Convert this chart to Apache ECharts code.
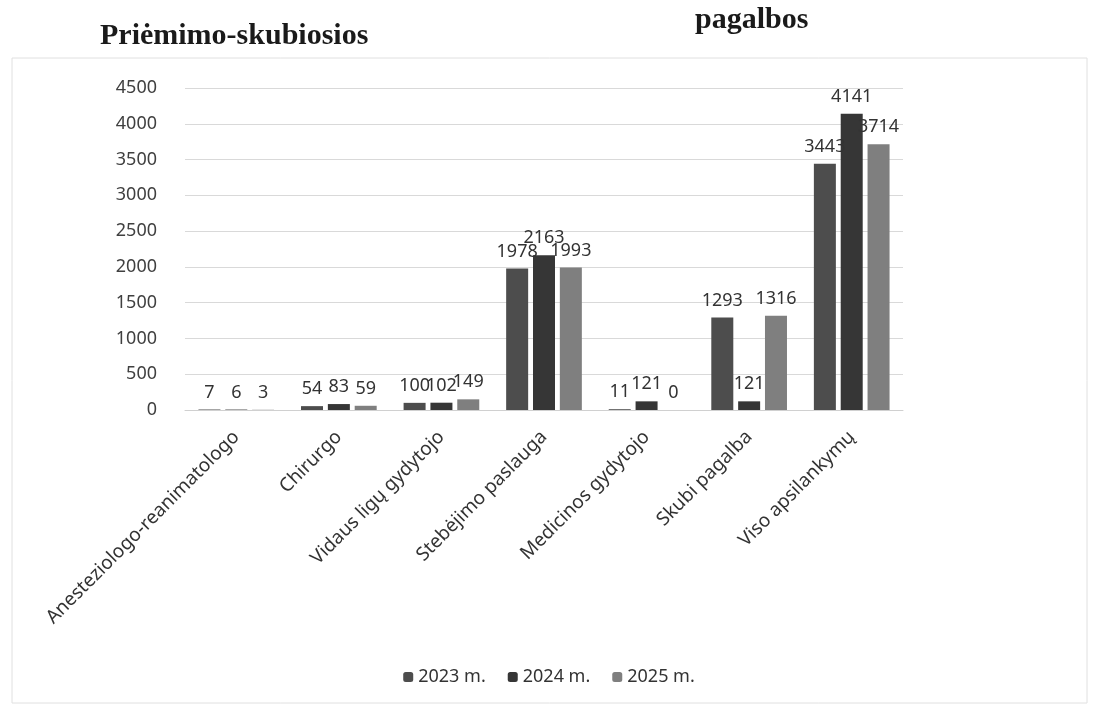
<!DOCTYPE html>
<html>
<head>
<meta charset="utf-8">
<script src="https://cdn.jsdelivr.net/npm/echarts@6/dist/echarts.min.js"></script>
<style>
  html, body { margin: 0; padding: 0; background: #fff; }
  #chart { width: 1098px; height: 713px; }
</style>
</head>
<body>
<div id="chart"></div>
<script>
const categories = [
  "Anesteziologo-reanimatologo",
  "Chirurgo",
  "Vidaus ligų gydytojo",
  "Stebėjimo paslauga",
  "Medicinos gydytojo",
  "Skubi pagalba",
  "Viso apsilankymų",
];
const years = ["2023 m.", "2024 m.", "2025 m."];
const values2023 = [7, 54, 100, 1978, 11, 1293, 3443];
const values2024 = [6, 83, 102, 2163, 121, 121, 4141];
const values2025 = [3, 59, 149, 1993, 0, 1316, 3714];
const colors = ["#4d4d4d", "#363636", "#7f7f7f"];

const chart = echarts.init(document.getElementById("chart"));

const makeSeries = (name, data, color) => ({
  name,
  type: "bar",
  data,
  barWidth: 22,
  barGap: "22%",
  itemStyle: { color },
  label: {
    show: true,
    position: "top",
    distance: 8,
    color: "#333",
    fontSize: 18,
    fontFamily: "Noto Sans",
  },
});

const titleStyle = {
  fontFamily: "Liberation Serif",
  fontSize: 30,
  fontWeight: "bold",
  color: "#1a1a1a",
};

chart.setOption({
  animation: false,
  textStyle: { fontFamily: "Noto Sans" },
  title: [
    { text: "Priėmimo-skubiosios", left: 95, top: 16, textStyle: titleStyle },
    { text: "pagalbos", left: 690, top: 0, textStyle: titleStyle },
  ],
  legend: {
    data: years,
    bottom: 22,
    left: "center",
    itemWidth: 10,
    itemHeight: 10,
    itemGap: 22,
    textStyle: { fontSize: 18, color: "#333" },
  },
  grid: { left: 185, right: 195, top: 88, bottom: 303 },
  xAxis: {
    type: "category",
    data: categories,
    axisLine: { lineStyle: { color: "#d0d0d0" } },
    axisTick: { show: false },
    axisLabel: { rotate: 45, interval: 0, fontSize: 19, color: "#333", margin: 24 },
  },
  yAxis: {
    type: "value",
    min: 0,
    max: 4500,
    interval: 500,
    axisLine: { show: false },
    axisTick: { show: false },
    axisLabel: { fontSize: 18, color: "#404040", margin: 28, formatter: (v) => String(v) },
    splitLine: { lineStyle: { color: "#d9d9d9" } },
  },
  series: [
    makeSeries(years[0], values2023, colors[0]),
    makeSeries(years[1], values2024, colors[1]),
    makeSeries(years[2], values2025, colors[2]),
  ],
  graphic: [
    {
      type: "rect",
      shape: { x: 12, y: 58, width: 1075, height: 645 },
      style: { fill: "none", stroke: "#e0e0e0", lineWidth: 1 },
      silent: true,
    },
  ],
});
</script>
</body>
</html>
